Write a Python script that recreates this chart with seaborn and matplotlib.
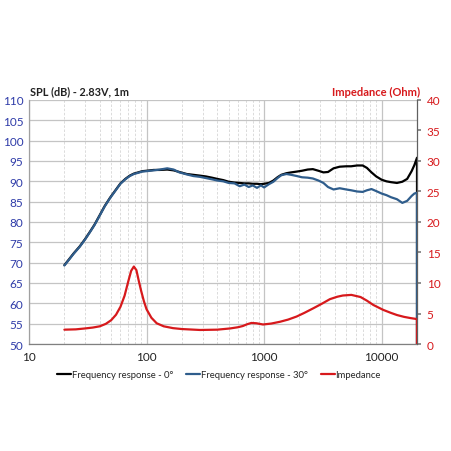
import numpy as np
import pandas as pd
import matplotlib
matplotlib.use('Agg')
import matplotlib.pyplot as plt
from matplotlib.ticker import FixedLocator, LogLocator, NullFormatter, FuncFormatter
import seaborn as sns

# frequency response (dB) - the measurement ends with a drop to zero at 20 kHz
freq = [20, 22, 24, 27, 30, 33, 36, 40, 44, 49, 55, 60, 66, 72, 78, 85, 92, 100,
        115, 130, 150, 170, 190, 220, 250, 285, 320, 360, 400, 450, 500, 560, 620,
        680, 740, 800, 870, 940, 1000, 1100, 1200, 1300, 1400, 1550, 1700, 1900,
        2100, 2350, 2600, 2900, 3200, 3500, 3900, 4400, 5000, 5500, 6200, 6900,
        7500, 8200, 9000, 10000, 11000, 12000, 13500, 15000, 16500, 18000, 19000,
        20000, 20000]
spl_0 = [69.4, 70.9, 72.3, 74.0, 75.8, 77.6, 79.3, 81.7, 83.9, 86.0, 88.0, 89.5,
         90.6, 91.4, 91.9, 92.2, 92.5, 92.6, 92.8, 92.8, 92.9, 92.7, 92.3, 91.8,
         91.6, 91.4, 91.2, 90.9, 90.6, 90.3, 89.9, 89.7, 89.6, 89.5, 89.5, 89.4,
         89.4, 89.3, 89.4, 89.6, 90.2, 91.0, 91.6, 92.0, 92.2, 92.4, 92.6, 92.9,
         93.0, 92.6, 92.2, 92.3, 93.2, 93.6, 93.7, 93.7, 93.9, 93.9, 93.3, 92.2,
         91.2, 90.4, 90.0, 89.8, 89.6, 89.9, 90.6, 92.5, 94.0, 95.8, 0]
spl_30 = [69.3, 70.8, 72.2, 73.9, 75.7, 77.5, 79.2, 81.6, 83.8, 85.9, 87.9, 89.4,
          90.5, 91.3, 91.8, 92.1, 92.4, 92.5, 92.7, 92.9, 93.2, 92.9, 92.2, 91.7,
          91.3, 91.1, 90.8, 90.5, 90.2, 90.0, 89.6, 89.5, 88.8, 89.2, 88.6, 89.0,
          88.4, 89.0, 88.5, 89.3, 89.9, 90.8, 91.5, 91.8, 91.6, 91.3, 91.0, 90.9,
          90.7, 90.2, 89.6, 88.6, 88.0, 88.3, 88.0, 87.8, 87.5, 87.4, 87.8, 88.1,
          87.6, 87.0, 86.6, 86.1, 85.6, 84.7, 85.2, 86.4, 87.0, 87.2, 0]

# impedance (Ohm)
z_freq = [20, 25, 30, 35, 40, 45, 50, 55, 60, 65, 70, 74, 78, 82, 86, 90, 95, 100,
          110, 122, 140, 168, 200, 285, 400, 514, 600, 660, 720, 780, 860, 980,
          1150, 1370, 1600, 1890, 2200, 2620, 3100, 3630, 4200, 4680, 5530, 6620,
          7500, 8500, 10300, 12000, 13500, 15500, 17600, 19800, 20000, 20000]
z_ohm = [2.35, 2.4, 2.55, 2.7, 2.9, 3.3, 3.9, 4.8, 6.1, 7.9, 10.3, 12.0, 12.7,
         12.1, 10.3, 8.7, 7.0, 5.7, 4.3, 3.4, 2.9, 2.6, 2.45, 2.3, 2.35, 2.55,
         2.75, 2.95, 3.25, 3.45, 3.4, 3.2, 3.35, 3.65, 4.0, 4.5, 5.1, 5.85, 6.6,
         7.35, 7.75, 7.95, 8.05, 7.7, 7.1, 6.4, 5.6, 5.1, 4.75, 4.45, 4.25, 4.1,
         4.05, 0]

spl_ticks = list(range(50, 111, 5))
z_ticks = list(range(0, 41, 5))
x_ticks = [10, 100, 1000, 10000]

black = '#000000'
blue = '#2F5D8C'
red = '#D7191C'
left_col = '#2E3BA8'

sns.set_theme(style='white')
plt.rcParams['font.family'] = ['Lato', 'DejaVu Sans']

fig = plt.figure(figsize=(4.52, 4.52), dpi=100)
ax = fig.add_axes([29 / 452, 1 - 345 / 452, (417 - 29) / 452, (345 - 101) / 452])

df = pd.DataFrame({'f': freq, 'a0': spl_0, 'a30': spl_30})
dz = pd.DataFrame({'f': z_freq, 'z': z_ohm})

sns.lineplot(data=df, x='f', y='a0', ax=ax, color=black, lw=1.6,
             estimator=None, sort=False, label='Frequency response - 0°')
sns.lineplot(data=df, x='f', y='a30', ax=ax, color=blue, lw=1.6,
             estimator=None, sort=False, label='Frequency response - 30°')

ax2 = ax.twinx()
sns.lineplot(data=dz, x='f', y='z', ax=ax2, color=red, lw=1.6,
             estimator=None, sort=False, label='Impedance')

ax.set_xscale('log')
ax.set_xlim(10, 20000)
ax.set_ylim(50, 110)
ax2.set_ylim(0, 40)
ax.set_xlabel('')
ax.set_ylabel('')
ax2.set_ylabel('')

ax.xaxis.set_major_locator(FixedLocator(x_ticks))
ax.xaxis.set_major_formatter(FuncFormatter(lambda v, p: '%d' % v))
ax.xaxis.set_minor_locator(LogLocator(base=10, subs=np.arange(2, 10)))
ax.xaxis.set_minor_formatter(NullFormatter())
ax.set_yticks(spl_ticks)
ax2.set_yticks(z_ticks)

ax.grid(True, which='major', axis='both', color='#C4C4C4', lw=0.9, ls='-')
ax.grid(True, which='minor', axis='x', color='#D6D6D6', lw=0.6, ls=(0, (3, 2)))
ax.set_axisbelow(True)

ax.tick_params(axis='y', which='both', length=0, labelsize=8.5,
               labelcolor=left_col, pad=4)
ax.tick_params(axis='x', which='both', length=0, labelsize=8.5,
               labelcolor='#222222', pad=5)
ax2.tick_params(axis='y', length=3, color='#808080', labelsize=8.5,
                labelcolor=red, pad=4, direction='out')

for a in (ax, ax2):
    for s in a.spines.values():
        s.set_visible(False)
ax.spines['left'].set_visible(True)
ax.spines['left'].set_color('#A0A0A0')
ax.spines['bottom'].set_visible(True)
ax.spines['bottom'].set_color('#808080')
ax2.spines['right'].set_visible(True)
ax2.spines['right'].set_color('#606060')
for s in ('left', 'bottom'):
    ax.spines[s].set_linewidth(0.9)
ax2.spines['right'].set_linewidth(0.9)

h1, l1 = ax.get_legend_handles_labels()
h2, l2 = ax2.get_legend_handles_labels()
ax.get_legend().remove()
ax2.get_legend().remove()
fig.legend(h1 + h2, l1 + l2, loc='center', bbox_to_anchor=(219 / 452, 1 - 376 / 452),
           ncol=3, frameon=False, fontsize=6.8, handlelength=1.5,
           handletextpad=0.05, columnspacing=1.4)

fig.text(30 / 452, 1 - 92 / 452, 'SPL (dB) - 2.83V, 1m', fontsize=7.8,
         fontweight='bold', color='#222222', va='center', ha='left')
fig.text(420 / 452, 1 - 92 / 452, 'Impedance (Ohm)', fontsize=8,
         fontweight='bold', color=red, va='center', ha='right')

fig.savefig('out.png', dpi=100)
